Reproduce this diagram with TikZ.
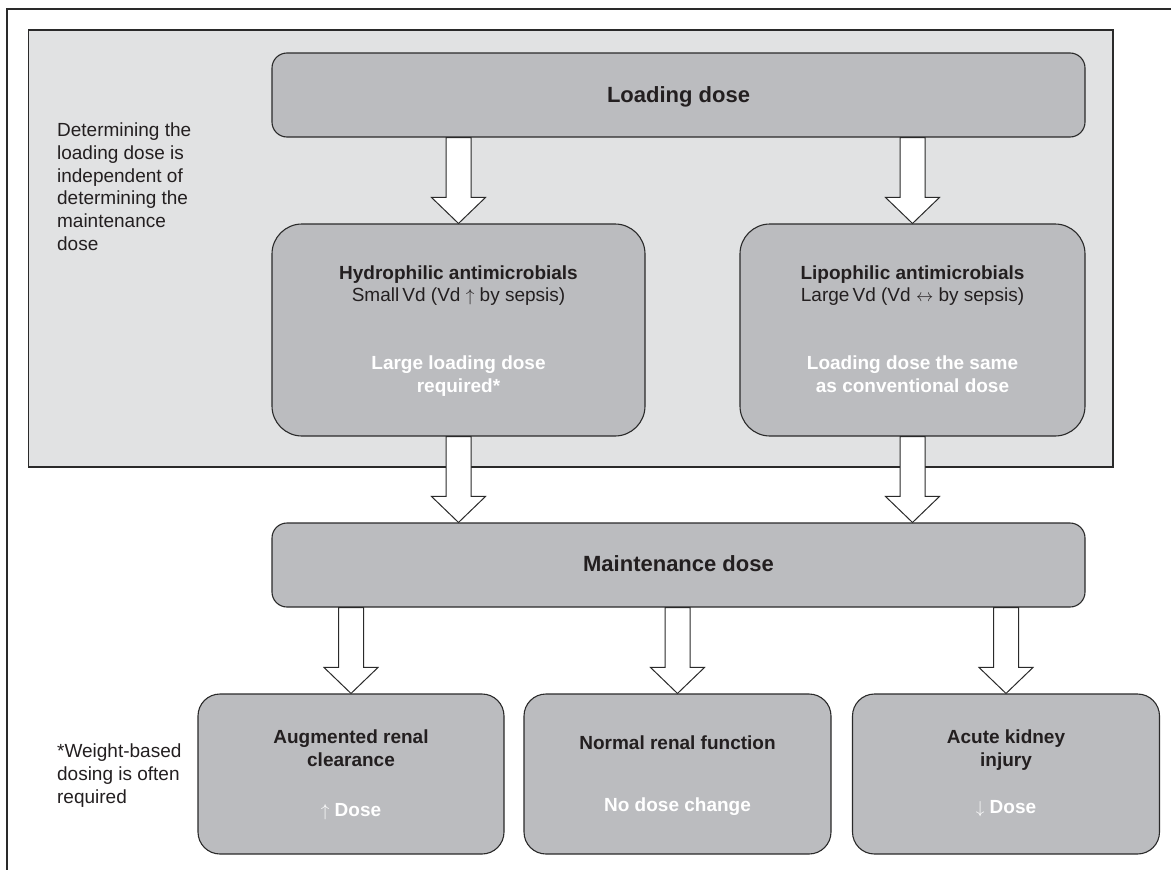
\documentclass[tikz,border=0pt]{standalone}
\usepackage{fontspec}
\setmainfont{Liberation Sans}
\usepackage{tikz}
\usetikzlibrary{calc}
\usepackage{xcolor}
\definecolor{panelgray}{HTML}{E1E2E3}
\definecolor{boxgray}{HTML}{BBBCBF}
\definecolor{edge}{HTML}{2A2A2A}
\definecolor{ink}{HTML}{231F20}
\newcommand\fatarrow[2]{%
  \draw[blockarrow] let \p1=(#1), \p2=(#2) in
    (\x1-12.5pt,\y1) -- (\x1-12.5pt,\y2+26pt) -- (\x1-27pt,\y2+26pt) -- (\x1,\y2)
    -- (\x1+27pt,\y2+26pt) -- (\x1+12.5pt,\y2+26pt) -- (\x1+12.5pt,\y1) -- cycle;}

\begin{document}
\begin{tikzpicture}[x=1pt,y=-1pt,
  panel/.style={draw=edge,fill=panelgray,line width=1.3pt},
  dosebox/.style={draw=edge,fill=boxgray,line width=1.1pt,inner sep=0pt},
  blockarrow/.style={draw=edge,fill=white,line width=1pt,line join=miter},
  bigtitle/.style={font=\bfseries\fontsize{22}{26}\selectfont,text=ink,anchor=base},
  boxtitle/.style={font=\fontsize{19}{22.6}\selectfont,text=ink,align=center,anchor=base},
  boxhint/.style={font=\bfseries\fontsize{19}{22.6}\selectfont,text=white,align=center,anchor=base},
  sidenote/.style={font=\fontsize{19}{22.7}\selectfont,text=ink,align=left,anchor=base west}]
\useasboundingbox (0,0) rectangle (1171,870);
\draw[edge,line width=1.8pt] (7,870) -- (7,9) -- (1171,9);
\draw[panel] (28.7,30) rectangle (1113,467);

\node[dosebox,rounded corners=15pt,minimum width=813pt,minimum height=84pt] (load) at (678.5,95) {};
\node[dosebox,rounded corners=30pt,minimum width=373pt,minimum height=212pt] (hydro) at (458.5,330) {};
\node[dosebox,rounded corners=30pt,minimum width=345pt,minimum height=212pt] (lipo) at (912.5,330) {};
\node[dosebox,rounded corners=15pt,minimum width=813pt,minimum height=84pt] (maint) at (678.5,565) {};
\node[dosebox,rounded corners=22pt,minimum width=306pt,minimum height=160pt] (aug) at (351,774) {};
\node[dosebox,rounded corners=22pt,minimum width=307pt,minimum height=160pt] (norm) at (677.5,774) {};
\node[dosebox,rounded corners=22pt,minimum width=307pt,minimum height=160pt] (acute) at (1006,774) {};

\node[bigtitle] (loadT) at (678.5,102.3) {Loading dose};
\node[bigtitle] (maintT) at (678.5,571) {Maintenance dose};
\node[boxtitle] (hydroT) at (458.5,301.7) {{\bfseries Hydrophilic antimicrobials}\\Small\,Vd (Vd $\uparrow$ by sepsis)};
\node[boxhint] (hydroH) at (458.5,392.3) {Large loading dose\\required*};
\node[boxtitle] (lipoT) at (912.5,301.7) {{\bfseries Lipophilic antimicrobials}\\Large\,Vd (Vd $\leftrightarrow$ by sepsis)};
\node[boxhint] (lipoH) at (912.5,392.3) {Loading dose the same\\as conventional dose};
\node[boxtitle,font=\bfseries\fontsize{19}{22.6}\selectfont] (augT) at (351,766) {Augmented renal\\clearance};
\node[boxhint] (augH) at (351,816) {$\uparrow$ Dose};
\node[boxtitle,font=\bfseries\fontsize{19}{22.6}\selectfont] (normT) at (677.5,749) {Normal renal function};
\node[boxhint] (normH) at (677.5,811) {No dose change};
\node[boxtitle,font=\bfseries\fontsize{19}{22.6}\selectfont] (acuteT) at (1006,766) {Acute kidney\\injury};
\node[boxhint] (acuteH) at (1006,813.3) {$\downarrow$ Dose};

\node[sidenote] (indep) at (53.6,250.2) {Determining the\\loading dose is\\independent of\\determining the\\maintenance\\dose};
\node[sidenote] (weight) at (53.6,803) {*Weight-based\\dosing is often\\required};

\fatarrow{load.south -| hydro.north}{hydro.north}
\fatarrow{load.south -| lipo.north}{lipo.north}
\fatarrow{hydro.south}{hydro.south |- maint.north}
\fatarrow{lipo.south}{lipo.south |- maint.north}
\fatarrow{maint.south -| aug.north}{aug.north}
\fatarrow{maint.south -| norm.north}{norm.north}
\fatarrow{maint.south -| acute.north}{acute.north}
\end{tikzpicture}
\end{document}
